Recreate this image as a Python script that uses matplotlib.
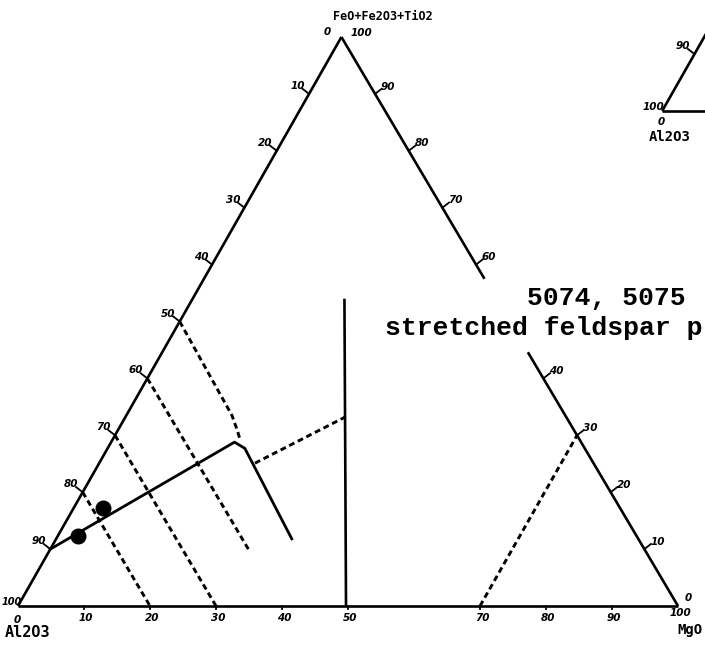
import numpy as np
import matplotlib.pyplot as plt

# compositions are (Al2O3, FeO+Fe2O3+TiO2, MgO) in percent
frame_left = [(100, 0, 0), (0, 100, 0)]
frame_base = [(100, 0, 0), (0, 0, 100)]
frame_right_upper = [(0, 100, 0), (0, 57.5, 42.5)]
frame_right_lower = [(0, 44.6, 55.4), (0, 0, 100)]

trend = [(90, 10, 0), (52.5, 28.8, 18.7), (51.5, 27.7, 20.8), (52.5, 11.8, 35.7)]
samples = [(84.6, 12.3, 3.1), (78.3, 17.2, 4.5)]

iso_al80 = [(80, 20, 0), (80, 0, 20)]
iso_al70 = [(70, 30, 0), (70, 0, 30)]
iso_al60 = [(60, 40, 0), (60, 10, 30)]
iso_al50 = [(50, 50, 0), (50.5, 33.5, 16), (51, 31, 18), (51.5, 29, 19.5)]
tie_line = [(51.3, 25.1, 23.6), (33.3, 33.3, 33.4)]
iso_mg70 = [(30, 0, 70), (0, 30, 70)]
divide = [(50.3, 0, 49.7), (23, 54, 23)]

left_ticks = [10, 20, 30, 40, 50, 60, 70, 80, 90]        # Al2O3 along left side
right_ticks = [90, 80, 70, 60, 40, 30, 20, 10]           # FeO+Fe2O3+TiO2 along right side
base_ticks = [10, 20, 30, 40, 50, 70, 80, 90]            # MgO along base

APEX = 0.49   # horizontal position of the apex as a fraction of the base
INSET = (97.6, 87.0)


def xy(pts, off=(0, 0)):
    pts = np.asarray(pts, dtype=float)
    fe, mg = pts[:, 1], pts[:, 2]
    return mg + APEX * fe + off[0], fe + off[1]


fig = plt.figure(figsize=(7.05, 6.49), dpi=100)
ax = fig.add_axes([0, 0, 1, 1])
ax.set_xlim(-18 / 6.6, 687 / 6.6)
ax.set_ylim(-43 / 5.69, 606 / 5.69)
ax.axis('off')

solid = dict(color='black', lw=1.9, solid_capstyle='butt')
dashed = dict(color='black', lw=2.1, linestyle=(0, (2.0, 1.3)))

for seg in [frame_left, frame_base, frame_right_upper, frame_right_lower, divide]:
    ax.plot(*xy(seg), **solid)
ax.plot(*xy(trend), color='black', lw=2.0, solid_joinstyle='round')
for seg in [iso_al80, iso_al70, iso_al60, iso_al50, tie_line, iso_mg70]:
    ax.plot(*xy(seg), **dashed)
sx, sy = xy(samples)
ax.plot(sx, sy, 'o', color='black', ms=10.5, ls='none')

tick_font = dict(fontsize=7.5, fontweight='bold', fontstyle='italic', family='DejaVu Sans')
label_font = dict(fontweight='bold', family='DejaVu Sans Mono')

# left side ticks and labels
for v in left_ticks:
    x, y = xy([(v, 100 - v, 0)])
    ax.plot([x[0], x[0] - 1.0], [y[0], y[0] + 0.9], color='black', lw=1.3)
    ax.text(x[0] - 0.6, y[0] + 1.4, str(v), ha='right', va='center', **tick_font)

# right side ticks and labels
for v in right_ticks:
    x, y = xy([(0, v, 100 - v)])
    ax.plot([x[0], x[0] + 1.0], [y[0], y[0] + 0.9], color='black', lw=1.3)
    ax.text(x[0] + 0.9, y[0] + 1.3, str(v), ha='left', va='center', **tick_font)

# base ticks and labels
for v in base_ticks:
    x, y = xy([(100 - v, 0, v)])
    ax.plot([x[0], x[0]], [y[0], y[0] - 0.6], color='black', lw=1.3)
    ax.text(x[0] + 0.3, y[0] - 1.2, str(v), ha='center', va='top', **tick_font)

# corner labels
ax.text(0.6, 0.7, '100', ha='right', va='center', fontsize=7, fontweight='bold',
        fontstyle='italic', family='DejaVu Sans')
ax.text(-0.15, -2.4, '0', ha='center', va='center', **tick_font)
ax.text(1.5, -4.7, 'Al2O3', ha='center', va='center', fontsize=11, **label_font)
ax.text(100 * APEX - 2.2, 100.9, '0', ha='center', va='center', **tick_font)
ax.text(100 * APEX + 3.1, 100.7, '100', ha='center', va='center', **tick_font)
ax.text(47.7, 103.6, 'FeO+Fe2O3+TiO2', ha='left', va='center', fontsize=8.5, **label_font)
ax.text(101.5, 1.4, '0', ha='center', va='center', **tick_font)
ax.text(100.3, -1.2, '100', ha='center', va='center', **tick_font)
ax.text(101.8, -4.2, 'MgO', ha='center', va='center', fontsize=10, **label_font)

# neighbouring diagram, mostly outside the frame
ax.plot(*xy(frame_left, INSET), **solid)
ax.plot(*xy(frame_base, INSET), **solid)
x, y = xy([(90, 10, 0)], INSET)
ax.plot([x[0], x[0] - 1.0], [y[0], y[0] + 0.9], color='black', lw=1.3)
ax.text(x[0] - 0.6, y[0] + 1.4, '90', ha='right', va='center', **tick_font)
ax.text(INSET[0] + 0.3, INSET[1] + 0.7, '100', ha='right', va='center', **tick_font)
ax.text(INSET[0] - 0.15, INSET[1] - 2.0, '0', ha='center', va='center', **tick_font)
ax.text(INSET[0] + 1.2, INSET[1] - 4.5, 'Al2O3', ha='center', va='center', fontsize=10, **label_font)

# sample annotation
ax.text(77.1, 52.9, '5074, 5075', ha='left', va='baseline', fontsize=19,
        fontweight='bold', family='Liberation Mono')
ax.text(55.6, 47.6, 'stretched feldspar p', ha='left', va='baseline', fontsize=19,
        fontweight='bold', family='Liberation Mono')

fig.savefig('out.png', dpi=100)
